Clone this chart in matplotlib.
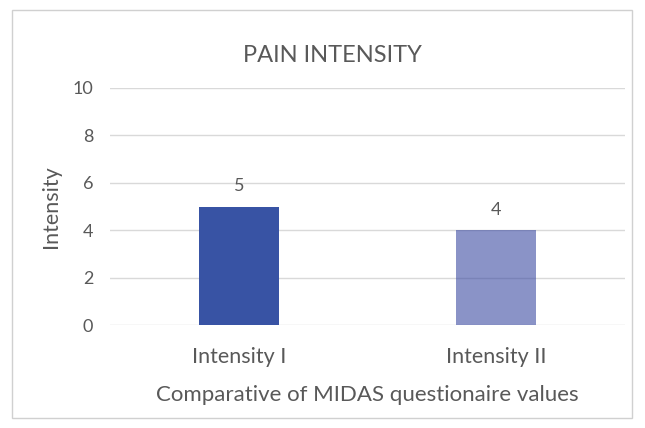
import matplotlib
matplotlib.use("Agg")
import matplotlib.pyplot as plt
from matplotlib.patches import Rectangle

categories = ["Intensity I", "Intensity II"]
values = [5, 4]
# second bar is semi-transparent so the gridline shows through
colors = ["#3853A4", "#3545A0"]
alphas = [1.0, 0.58]
yticks = [0, 2, 4, 6, 8, 10]

plt.rcParams['font.family'] = ['Lato', 'DejaVu Sans']
text_col = "#595959"

fig = plt.figure(figsize=(6.45, 4.28), dpi=100)
fig.patches.append(Rectangle((12/645, 10/428), 620/645, 408/428, transform=fig.transFigure,
                             fill=False, edgecolor="#d0d0d0", linewidth=1))
ax = fig.add_axes([110/645, 1 - 325/428, 515/645, 237/428])

x = list(range(len(categories)))
for xi, v, c, a in zip(x, values, colors, alphas):
    ax.bar(xi, v, width=0.31, color=c, alpha=a, zorder=2)
    ax.annotate(str(v), (xi, v), xytext=(0, 9), textcoords="offset points",
                ha="center", va="bottom", fontsize=13, color=text_col)

ax.set_xlim(-0.5, 1.5)
ax.set_ylim(0, 10)
ax.set_yticks(yticks)
for yt in yticks:
    ax.axhline(yt, color="#d9d9d9", linewidth=1, zorder=1)
for s in ax.spines.values():
    s.set_visible(False)
ax.tick_params(length=0, colors=text_col)
ax.tick_params(axis="y", pad=12, labelsize=13)
ax.tick_params(axis="x", pad=16, labelsize=15.5)
ax.set_xticks(x)
ax.set_xticklabels(categories)
ax.set_ylabel("Intensity", color=text_col, fontsize=15.5, labelpad=8)
ax.set_xlabel("Comparative of MIDAS questionaire values", color=text_col, fontsize=16, labelpad=13)
fig.text(332/645, 1 - 55/428, "PAIN INTENSITY", ha="center", va="center", fontsize=17, color=text_col)

fig.savefig("out.png", dpi=100)
